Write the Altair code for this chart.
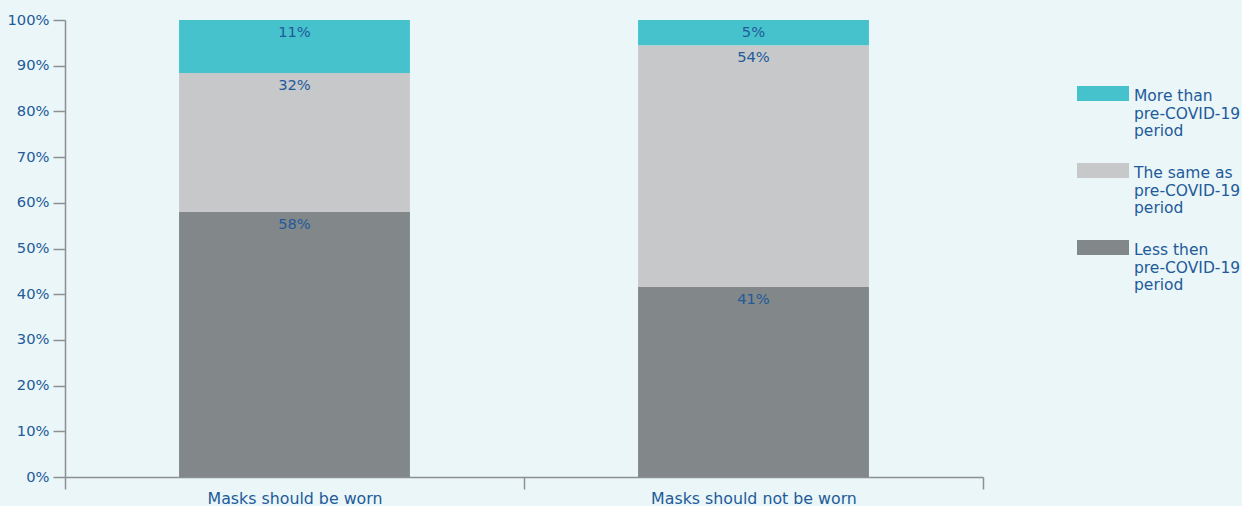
import altair as alt
import pandas as pd

categories = ["Masks should be worn", "Masks should not be worn"]
series = ["More than\npre-COVID-19\nperiod", "The same as\npre-COVID-19\nperiod", "Less then\npre-COVID-19\nperiod"]
more_than = [11.6, 5.5]
same_as = [30.4, 52.9]
less_then = [58.0, 41.6]
label_more = ["11%", "5%"]
label_same = ["32%", "54%"]
label_less = ["58%", "41%"]
colors = ["#45C2CC", "#C7C8CA", "#828789"]

rows = []
for i, cat in enumerate(categories):
    total = more_than[i] + same_as[i] + less_then[i]
    cum = 0.0
    for rank, (s, vals, labs) in enumerate([
        (series[2], less_then, label_less),
        (series[1], same_as, label_same),
        (series[0], more_than, label_more),
    ]):
        start = cum
        cum += vals[i] / total
        rows.append({"cat": cat, "series": s, "rank": rank,
                     "start": start, "end": cum, "label": labs[i]})
df = pd.DataFrame(rows)

FONT = "DejaVu Sans"
TXT = "#235A9A"
AX = "#8C9092"

x_enc = alt.X("cat:N", sort=categories, title=None,
              scale=alt.Scale(paddingInner=0, paddingOuter=0),
              axis=alt.Axis(labelAngle=0, tickBand="extent", domainColor=AX, tickColor=AX,
                            tickSize=12, labelPadding=2, labelFontSize=15.8, labelLimit=400,
                            labelColor=TXT, labelFont=FONT, domainWidth=1.5, tickWidth=1.5))

bars = alt.Chart(df).mark_bar(width=alt.RelativeBandSize(0.503)).encode(
    x=x_enc,
    y=alt.Y("start:Q", scale=alt.Scale(domain=[0, 1]), title=None,
            axis=alt.Axis(format=".0%", values=[i / 10 for i in range(11)],
                          domainColor=AX, tickColor=AX, tickSize=12, labelPadding=4,
                          labelFontSize=14.7, labelColor=TXT, labelFont=FONT,
                          domainWidth=1.5, tickWidth=1.5, grid=False)),
    y2="end:Q",
    color=alt.Color("series:N", sort=series,
                    scale=alt.Scale(domain=series, range=colors),
                    legend=alt.Legend(title=None, orient="none", legendX=1012, legendY=43,
                                      symbolType="M-1,-0.115L1,-0.115L1,0.462L-1,0.462Z",
                                      symbolSize=2704, symbolStrokeWidth=0, symbolOpacity=1,
                                      labelExpr="split(datum.label, '\\n')",
                                      labelFontSize=15.5, labelColor=TXT, labelFont=FONT,
                                      labelBaseline="top", labelOffset=5, rowPadding=-3,
                                      labelLimit=200)),
    order=alt.Order("rank:Q"),
)

texts = alt.Chart(df).mark_text(baseline="middle", dy=13, fontSize=14.7, color=TXT, font=FONT).encode(
    x=alt.X("cat:N", sort=categories),
    y=alt.Y("end:Q"),
    text="label:N",
)

chart = alt.layer(bars, texts).properties(
    width=918, height=457,
    background="#EAF6F7",
    padding={"left": 65, "top": 20, "right": 259, "bottom": 29},
    autosize=alt.AutoSizeParams(type="none"),
).configure_view(stroke=None)

chart.save("out.html", embed_options={"renderer": "svg", "actions": False})
